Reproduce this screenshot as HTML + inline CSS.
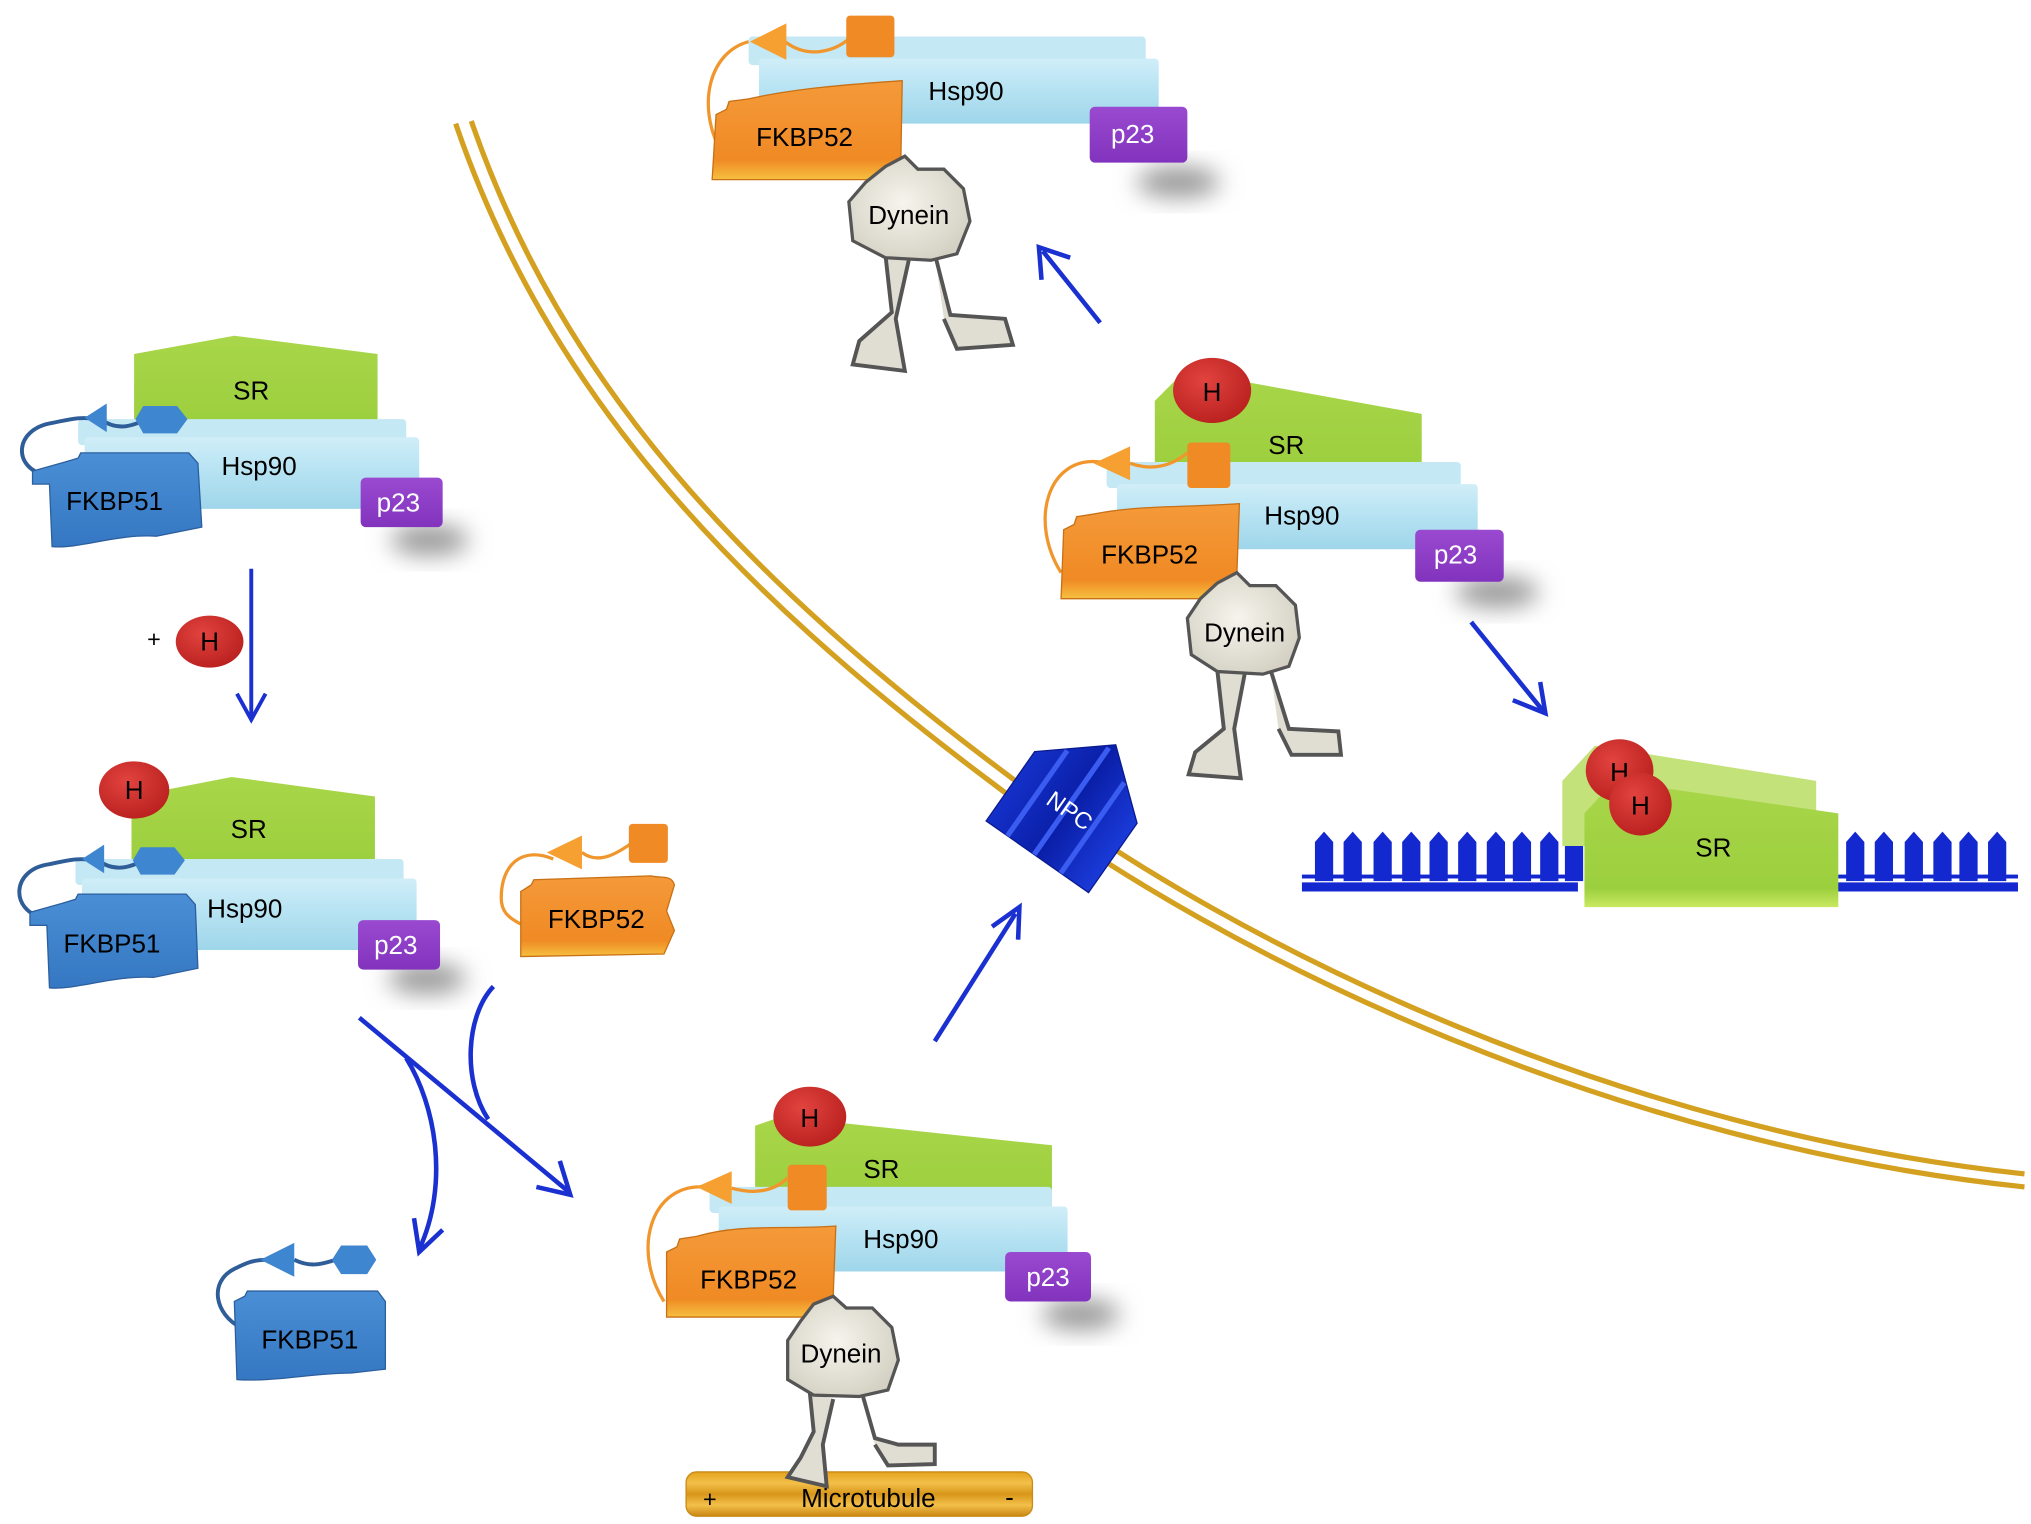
<!DOCTYPE html>
<html><head><meta charset="utf-8"><style>
html,body{margin:0;padding:0;background:#fff;}
svg{display:block;}
text{font-family:"Liberation Sans",sans-serif;}
</style></head><body>
<svg width="2031" height="1524" viewBox="0 0 1560 1171" preserveAspectRatio="none" xmlns="http://www.w3.org/2000/svg">
<defs>
<linearGradient id="gSR" x1="0" y1="0" x2="0" y2="1"><stop offset="0" stop-color="#a9d64a"/><stop offset="0.85" stop-color="#9ccf3e"/><stop offset="1" stop-color="#c9e860"/></linearGradient>
<linearGradient id="gH" x1="0" y1="0" x2="0" y2="1"><stop offset="0" stop-color="#d0eef8"/><stop offset="0.5" stop-color="#b5e2f2"/><stop offset="1" stop-color="#9fd6ea"/></linearGradient>
<linearGradient id="gB" x1="0" y1="0" x2="0" y2="1"><stop offset="0" stop-color="#4a8fd6"/><stop offset="1" stop-color="#3577c2"/></linearGradient>
<linearGradient id="gO" x1="0" y1="0" x2="0" y2="1"><stop offset="0" stop-color="#f49a3a"/><stop offset="0.8" stop-color="#f08a24"/><stop offset="1" stop-color="#f6c040"/></linearGradient>
<linearGradient id="gP" x1="0" y1="0" x2="0" y2="1"><stop offset="0" stop-color="#9a4ad0"/><stop offset="1" stop-color="#8233bd"/></linearGradient>
<radialGradient id="gR" cx="0.4" cy="0.35" r="0.7"><stop offset="0" stop-color="#e2433f"/><stop offset="1" stop-color="#b8201e"/></radialGradient>
<radialGradient id="gD" cx="0.45" cy="0.45" r="0.6"><stop offset="0" stop-color="#f6f4ec"/><stop offset="1" stop-color="#d4d1c4"/></radialGradient>
<linearGradient id="gMT" x1="0" y1="0" x2="0" y2="1"><stop offset="0" stop-color="#e4a21c"/><stop offset="0.25" stop-color="#f3c04a"/><stop offset="0.5" stop-color="#d8961a"/><stop offset="0.75" stop-color="#f3c04a"/><stop offset="1" stop-color="#c98612"/></linearGradient>
<linearGradient id="gNPC" x1="0" y1="0" x2="1" y2="0"><stop offset="0" stop-color="#1430c8"/><stop offset="0.5" stop-color="#0a1fa8"/><stop offset="1" stop-color="#1a3ad8"/></linearGradient>
<filter id="bl" x="-50%" y="-50%" width="200%" height="200%"><feGaussianBlur stdDeviation="9"/></filter>
</defs>

<path d="M350,95 C420,300 560,450 760,600 C950,745 1250,880 1555,912" fill="none" stroke="#d4a020" stroke-width="4"/>
<path d="M362,93 C432,296 572,444 772,594 C960,737 1255,870 1555,902" fill="none" stroke="#d4a020" stroke-width="4"/>

<!-- Complex A -->
<ellipse cx="330" cy="415" rx="30" ry="12" fill="#999" filter="url(#bl)"/>
<path d="M103,272 L180,258 L290,272 L290,336 L103,336 Z" fill="url(#gSR)"/>
<text x="193" y="307" font-size="20" text-anchor="middle">SR</text>
<rect x="60" y="322" width="252" height="20" rx="3" fill="#c4e8f4"/>
<rect x="65" y="336" width="257" height="55" rx="3" fill="url(#gH)"/>
<text x="199" y="365" font-size="20" text-anchor="middle">Hsp90</text>
<path d="M35,365 C10,360 10,330 40,325 C55,322 60,320 75,322" fill="none" stroke="#2e5d98" stroke-width="3"/>
<path d="M77,322 C95,335 110,322 118,320" fill="none" stroke="#2e5d98" stroke-width="3"/>
<polygon points="65,321 82,310 82,332" fill="#3f86d0"/>
<polygon points="110,312 136,312 144,322 136,333 110,333 104,322" fill="#3f86d0"/>
<path d="M50,355 L60,352 L62,348 L145,348 L152,356 L155,405 L120,412 C90,410 60,422 40,420 L38,372 L25,372 L25,362 Z" fill="url(#gB)" stroke="#2c5f9e" stroke-width="1"/>
<text x="88" y="392" font-size="20" text-anchor="middle">FKBP51</text>
<rect x="277" y="367" width="63" height="38" rx="4" fill="url(#gP)"/>
<text x="306" y="393" font-size="20" fill="#fff" text-anchor="middle">p23</text>

<text x="113" y="497" font-size="18">+</text>
<ellipse cx="161" cy="493" rx="26" ry="20" fill="url(#gR)"/>
<text x="161" y="500" font-size="20" text-anchor="middle">H</text>
<line x1="193" y1="437" x2="193" y2="550" stroke="#1a30d0" stroke-width="3"/>
<path d="M182,533 L193,553 L204,533" fill="none" stroke="#1a30d0" stroke-width="3"/>

<!-- Complex B -->
<ellipse cx="328" cy="752" rx="30" ry="12" fill="#999" filter="url(#bl)"/>
<path d="M101,612 L178,597 L288,612 L288,673 L101,673 Z" fill="url(#gSR)"/>
<text x="191" y="644" font-size="20" text-anchor="middle">SR</text>
<rect x="58" y="660" width="252" height="20" rx="3" fill="#c4e8f4"/>
<rect x="63" y="675" width="257" height="55" rx="3" fill="url(#gH)"/>
<text x="188" y="705" font-size="20" text-anchor="middle">Hsp90</text>
<path d="M33,705 C8,700 8,668 38,664 C53,661 58,659 73,661" fill="none" stroke="#2e5d98" stroke-width="3"/>
<path d="M75,661 C93,674 108,661 116,659" fill="none" stroke="#2e5d98" stroke-width="3"/>
<polygon points="63,660 80,649 80,671" fill="#3f86d0"/>
<polygon points="108,651 134,651 142,661 134,672 108,672 102,661" fill="#3f86d0"/>
<path d="M48,694 L58,691 L60,687 L143,687 L150,695 L152,744 L118,751 C88,749 58,761 38,759 L36,711 L23,711 L23,701 Z" fill="url(#gB)" stroke="#2c5f9e" stroke-width="1"/>
<text x="86" y="732" font-size="20" text-anchor="middle">FKBP51</text>
<rect x="275" y="707" width="63" height="38" rx="4" fill="url(#gP)"/>
<text x="304" y="733" font-size="20" fill="#fff" text-anchor="middle">p23</text>
<ellipse cx="103" cy="607" rx="27" ry="22" fill="url(#gR)"/>
<text x="103" y="614" font-size="20" text-anchor="middle">H</text>

<!-- free FKBP52 -->
<path d="M425,660 C400,650 385,665 385,690 C385,700 390,705 400,710" fill="none" stroke="#f0962c" stroke-width="2.5"/>
<path d="M447,655 C460,665 475,655 485,648" fill="none" stroke="#f0962c" stroke-width="2.5"/>
<polygon points="420,655 447,642 447,668" fill="#f5a030"/>
<rect x="483" y="633" width="30" height="30" rx="3" fill="#f08a24"/>
<path d="M400,685 L408,680 L410,676 L500,673 C508,675 516,672 518,680 L512,700 L518,715 L510,733 L400,735 Z" fill="url(#gO)" stroke="#c87015" stroke-width="1"/>
<text x="458" y="713" font-size="20" text-anchor="middle">FKBP52</text>

<!-- cross arrows -->
<line x1="276" y1="782" x2="436" y2="915" stroke="#1a30d0" stroke-width="3.5"/>
<path d="M412,912 L438,918 L430,892" fill="none" stroke="#1a30d0" stroke-width="3.5"/>
<path d="M379,758 C358,780 355,830 375,860" fill="none" stroke="#1a30d0" stroke-width="3.5"/>
<path d="M312,813 C335,850 345,910 322,960" fill="none" stroke="#1a30d0" stroke-width="3.5"/>
<path d="M318,936 L322,962 L340,945" fill="none" stroke="#1a30d0" stroke-width="3.5"/>

<!-- free FKBP51 -->
<path d="M185,1020 C165,1010 160,985 180,975 C190,970 195,968 205,968" fill="none" stroke="#2e5d98" stroke-width="3"/>
<path d="M226,968 C240,975 250,970 258,968" fill="none" stroke="#2e5d98" stroke-width="3"/>
<polygon points="200,968 226,955 226,981" fill="#3f86d0"/>
<polygon points="262,957 282,957 289,968 282,979 262,979 255,968" fill="#3f86d0"/>
<path d="M180,1000 L188,996 L190,992 L290,992 L296,1000 L296,1052 L270,1055 C240,1055 210,1062 182,1060 Z" fill="url(#gB)" stroke="#2c5f9e" stroke-width="1"/>
<text x="238" y="1036" font-size="20" text-anchor="middle">FKBP51</text>

<!-- Bottom complex -->
<ellipse cx="830" cy="1010" rx="30" ry="12" fill="#999" filter="url(#bl)"/>
<path d="M580,865 L600,858 L808,880 L808,930 L580,930 Z" fill="url(#gSR)"/>
<text x="677" y="905" font-size="20" text-anchor="middle">SR</text>
<rect x="545" y="912" width="263" height="20" rx="3" fill="#c4e8f4"/>
<rect x="552" y="927" width="268" height="50" rx="3" fill="url(#gH)"/>
<text x="692" y="959" font-size="20" text-anchor="middle">Hsp90</text>
<rect x="605" y="895" width="30" height="35" rx="3" fill="#f08a24"/>
<path d="M540,912 C500,910 485,960 510,1000" fill="none" stroke="#f0962c" stroke-width="2.5"/>
<path d="M562,913 C580,918 595,915 605,905" fill="none" stroke="#f0962c" stroke-width="2.5"/>
<polygon points="535,912 562,900 562,925" fill="#f5a030"/>
<path d="M512,962 L520,958 L522,952 L535,950 C570,940 600,945 642,942 L640,995 L632,1012 L512,1012 Z" fill="url(#gO)" stroke="#c87015" stroke-width="1"/>
<text x="575" y="990" font-size="20" text-anchor="middle">FKBP52</text>
<rect x="772" y="962" width="66" height="38" rx="4" fill="url(#gP)"/>
<text x="805" y="988" font-size="20" fill="#fff" text-anchor="middle">p23</text>
<ellipse cx="622" cy="858" rx="28" ry="23" fill="url(#gR)"/>
<text x="622" y="866" font-size="20" text-anchor="middle">H</text>
<rect x="527" y="1131" width="266" height="34" rx="8" fill="url(#gMT)" stroke="#c98a18"/>
<text x="540" y="1158" font-size="18">+</text>
<text x="667" y="1158" font-size="20" text-anchor="middle">Microtubule</text>
<text x="772" y="1157" font-size="20">-</text>
<path d="M622,1070 L625,1100 L615,1120 L605,1135 L635,1142 L632,1110 L640,1075" fill="#e0ddd2" stroke="#555" stroke-width="3"/>
<path d="M662,1070 L672,1105 L690,1110 L718,1110 L718,1125 L682,1126 L672,1110" fill="#e0ddd2" stroke="#555" stroke-width="3"/>
<path d="M625,1002 L640,996 L650,1005 L670,1005 L685,1020 L690,1045 L682,1068 L660,1073 L625,1072 L605,1060 L605,1030 L615,1015 Z" fill="url(#gD)" stroke="#555" stroke-width="2.5"/>
<text x="646" y="1047" font-size="20" text-anchor="middle">Dynein</text>

<line x1="718" y1="800" x2="780" y2="702" stroke="#1a30d0" stroke-width="3.5"/>
<path d="M762,712 L783,697 L782,722" fill="none" stroke="#1a30d0" stroke-width="3.5"/>

<!-- NPC -->
<g transform="rotate(35 818 628)">
<polygon points="770,600 818,560 866,600 866,665 770,665" fill="url(#gNPC)" stroke="#0a1a90"/>
<line x1="790" y1="585" x2="790" y2="665" stroke="#3a5cf0" stroke-width="4"/>
<line x1="815" y1="565" x2="815" y2="665" stroke="#3a5cf0" stroke-width="4"/>
<line x1="840" y1="580" x2="840" y2="665" stroke="#3a5cf0" stroke-width="4"/>
<text x="818" y="628" font-size="18" fill="#fff" text-anchor="middle">NPC</text>
</g>

<!-- Top complex -->
<ellipse cx="905" cy="140" rx="32" ry="12" fill="#999" filter="url(#bl)"/>
<rect x="575" y="28" width="305" height="22" rx="3" fill="#c4e8f4"/>
<rect x="583" y="45" width="307" height="50" rx="3" fill="url(#gH)"/>
<text x="742" y="77" font-size="20" text-anchor="middle">Hsp90</text>
<path d="M575,32 C545,40 535,80 553,115" fill="none" stroke="#f0962c" stroke-width="2.5"/>
<path d="M603,32 C620,45 640,40 652,30" fill="none" stroke="#f0962c" stroke-width="2.5"/>
<polygon points="576,32 604,18 604,46" fill="#f5a030"/>
<rect x="650" y="12" width="37" height="32" rx="3" fill="#f08a24"/>
<path d="M550,88 L558,84 L560,78 L575,76 C610,68 650,65 693,62 L692,120 L685,138 L547,138 Z" fill="url(#gO)" stroke="#c87015" stroke-width="1"/>
<text x="618" y="112" font-size="20" text-anchor="middle">FKBP52</text>
<rect x="837" y="82" width="75" height="43" rx="4" fill="url(#gP)"/>
<text x="870" y="110" font-size="20" fill="#fff" text-anchor="middle">p23</text>
<path d="M680,195 L685,240 L660,262 L655,280 L695,285 L688,245 L698,200" fill="#e0ddd2" stroke="#555" stroke-width="3"/>
<path d="M718,195 L730,242 L772,245 L778,265 L735,268 L725,245" fill="#e0ddd2" stroke="#555" stroke-width="3"/>
<path d="M680,128 L695,120 L705,130 L725,130 L740,145 L745,170 L735,195 L715,200 L680,198 L655,185 L652,155 L665,140 Z" fill="url(#gD)" stroke="#555" stroke-width="2.5"/>
<text x="698" y="172" font-size="20" text-anchor="middle">Dynein</text>

<line x1="845" y1="248" x2="801" y2="193" stroke="#1a30d0" stroke-width="3.5"/>
<path d="M800,215 L798,190 L822,198" fill="none" stroke="#1a30d0" stroke-width="3.5"/>

<!-- Right complex -->
<ellipse cx="1150" cy="455" rx="32" ry="12" fill="#999" filter="url(#bl)"/>
<path d="M887,308 L910,285 L1092,318 L1092,372 L887,372 Z" fill="url(#gSR)"/>
<text x="988" y="349" font-size="20" text-anchor="middle">SR</text>
<rect x="850" y="355" width="272" height="20" rx="3" fill="#c4e8f4"/>
<rect x="858" y="372" width="277" height="50" rx="3" fill="url(#gH)"/>
<text x="1000" y="403" font-size="20" text-anchor="middle">Hsp90</text>
<rect x="912" y="340" width="33" height="35" rx="3" fill="#f08a24"/>
<path d="M845,355 C805,350 790,400 815,440" fill="none" stroke="#f0962c" stroke-width="2.5"/>
<path d="M868,356 C885,362 900,358 912,348" fill="none" stroke="#f0962c" stroke-width="2.5"/>
<polygon points="840,356 868,343 868,369" fill="#f5a030"/>
<path d="M817,407 L825,403 L827,397 L840,395 C875,388 910,390 952,387 L950,442 L942,460 L815,460 Z" fill="url(#gO)" stroke="#c87015" stroke-width="1"/>
<text x="883" y="433" font-size="20" text-anchor="middle">FKBP52</text>
<rect x="1087" y="407" width="68" height="40" rx="4" fill="url(#gP)"/>
<text x="1118" y="433" font-size="20" fill="#fff" text-anchor="middle">p23</text>
<ellipse cx="931" cy="300" rx="30" ry="25" fill="url(#gR)"/>
<text x="931" y="308" font-size="20" text-anchor="middle">H</text>
<path d="M935,515 L940,560 L918,578 L913,595 L953,598 L948,560 L956,518" fill="#e0ddd2" stroke="#555" stroke-width="3"/>
<path d="M976,515 L990,560 L1028,562 L1030,580 L992,580 L982,560" fill="#e0ddd2" stroke="#555" stroke-width="3"/>
<path d="M935,448 L950,440 L960,450 L980,450 L995,465 L998,490 L990,512 L970,518 L935,516 L915,503 L912,475 L922,460 Z" fill="url(#gD)" stroke="#555" stroke-width="2.5"/>
<text x="956" y="493" font-size="20" text-anchor="middle">Dynein</text>

<line x1="1130" y1="478" x2="1185" y2="546" stroke="#1a30d0" stroke-width="3.5"/>
<path d="M1162,538 L1187,548 L1183,524" fill="none" stroke="#1a30d0" stroke-width="3.5"/>

<!-- DNA -->
<g fill="#1428d0">
<rect x="1000" y="672" width="212" height="3"/><rect x="1000" y="678" width="212" height="7"/>
<rect x="1410" y="672" width="140" height="3"/><rect x="1410" y="678" width="140" height="7"/>
<path d="M1010,677 v-30 l7,-8 l7,8 v30 z"/><path d="M1032,677 v-30 l7,-8 l7,8 v30 z"/>
<path d="M1055,677 v-30 l7,-8 l7,8 v30 z"/><path d="M1077,677 v-30 l7,-8 l7,8 v30 z"/>
<path d="M1098,677 v-30 l7,-8 l7,8 v30 z"/><path d="M1120,677 v-30 l7,-8 l7,8 v30 z"/>
<path d="M1142,677 v-30 l7,-8 l7,8 v30 z"/><path d="M1162,677 v-30 l7,-8 l7,8 v30 z"/>
<path d="M1183,677 v-30 l7,-8 l7,8 v30 z"/><path d="M1202,677 v-30 l7,-8 l7,8 v30 z"/>
<path d="M1418,677 v-30 l7,-8 l7,8 v30 z"/><path d="M1440,677 v-30 l7,-8 l7,8 v30 z"/>
<path d="M1463,677 v-30 l7,-8 l7,8 v30 z"/><path d="M1485,677 v-30 l7,-8 l7,8 v30 z"/>
<path d="M1505,677 v-30 l7,-8 l7,8 v30 z"/><path d="M1527,677 v-30 l7,-8 l7,8 v30 z"/>
</g>
<path d="M1200,600 L1225,573 L1395,600 L1395,650 L1200,650 Z" fill="#c3e27a"/>
<path d="M1217,625 L1240,600 L1412,625 L1412,697 L1217,697 Z" fill="url(#gSR)"/>
<text x="1316" y="658" font-size="20" text-anchor="middle">SR</text>
<ellipse cx="1244" cy="592" rx="26" ry="24" fill="url(#gR)"/>
<text x="1244" y="600" font-size="20" text-anchor="middle">H</text>
<ellipse cx="1260" cy="618" rx="24" ry="24" fill="url(#gR)"/>
<text x="1260" y="626" font-size="20" text-anchor="middle">H</text>
</svg>
</body></html>
